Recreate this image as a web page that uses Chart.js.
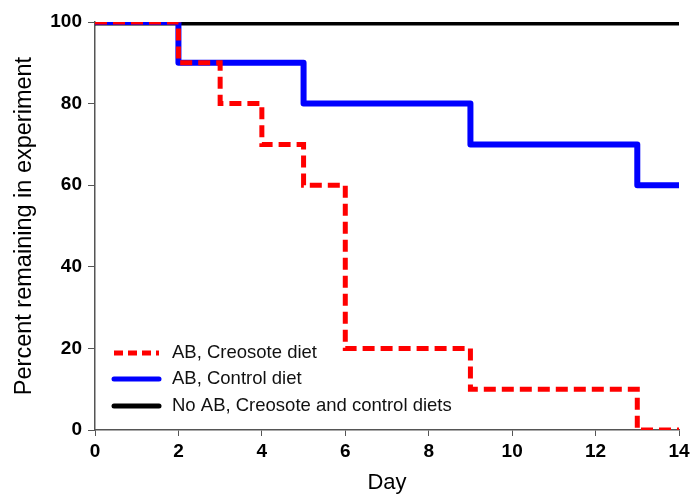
<html lang="en">
<head>
<meta charset="UTF-8">
<title>Survival</title>
<script src="https://cdn.jsdelivr.net/npm/chart.js@4.4.0/dist/chart.umd.min.js"></script>
<style>
  body { margin: 0; background: #fff; }
  #wrap { width: 691px; height: 494px; }
</style>
</head>
<body>
<div id="wrap"><canvas id="chart" width="691" height="494"></canvas></div>
<script>
// days where the value changes, and the value from that day on
const creosoteDays = [0, 2, 3, 4, 5, 6, 9, 13, 14];
const creosoteVals = [100, 90, 80, 70, 60, 20, 10, 0, 0];
const controlDays = [0, 2, 5, 9, 13, 14];
const controlVals = [100, 90, 80, 70, 60, 60];
const noAbDays = [0, 14];
const noAbVals = [100, 100];
const labels = ['AB, Creosote diet', 'AB, Control diet', 'No AB, Creosote and control diets'];

const FONT = '"Liberation Sans", Arial, sans-serif';

function pts(xs, ys) {
    return xs.map((x, i) => ({ x: x, y: ys[i] }));
}

const legendInside = {
    id: 'legendInside',
    afterDraw(chart) {
        const ctx = chart.ctx;
        const rows = [353, 379, 406];
        ctx.save();
        chart.data.datasets.forEach((ds, i) => {
            const y = rows[i];
            ctx.beginPath();
            ctx.strokeStyle = ds.borderColor;
            ctx.lineWidth = 5;
            ctx.lineCap = ds.borderDash ? 'butt' : 'round';
            ctx.setLineDash(ds.borderDash ? [9, 5] : []);
            ctx.moveTo(114, y);
            ctx.lineTo(159, y);
            ctx.stroke();
            ctx.setLineDash([]);
            ctx.fillStyle = '#111';
            ctx.font = '18.5px ' + FONT;
            ctx.textBaseline = 'middle';
            ctx.fillText(labels[i], 172, y);
        });
        ctx.restore();
    }
};

const ctx = document.getElementById('chart').getContext('2d');
new Chart(ctx, {
    type: 'line',
    data: {
        datasets: [{
            label: labels[0],
            data: pts(creosoteDays, creosoteVals),
            borderColor: '#ff0000',
            borderWidth: 5,
            borderDash: [12, 6],
            stepped: true,
            pointRadius: 0,
            order: 0
        }, {
            label: labels[1],
            data: pts(controlDays, controlVals),
            borderColor: '#0000ff',
            borderWidth: 6,
            borderCapStyle: 'round',
            borderJoinStyle: 'round',
            stepped: true,
            pointRadius: 0,
            order: 1
        }, {
            label: labels[2],
            data: pts(noAbDays, noAbVals),
            borderColor: '#000000',
            borderWidth: 7,
            borderCapStyle: 'round',
            stepped: true,
            pointRadius: 0,
            order: 2
        }]
    },
    options: {
        responsive: false,
        animation: false,
        layout: { padding: { top: 22, right: 12, left: 0, bottom: 0 } },
        plugins: { legend: { display: false }, tooltip: { enabled: false } },
        scales: {
            x: {
                type: 'linear',
                min: 0, max: 14,
                afterFit(s) { s.height = 64; s.paddingRight = 0; },
                ticks: { stepSize: 2, color: '#000', padding: 4,
                    font: { size: 19, weight: 'bold', family: FONT } },
                grid: { drawOnChartArea: false, drawTicks: true, tickLength: 6, color: '#555' },
                border: { color: '#555', width: 1.5 },
                title: { display: true, text: 'Day', color: '#000', padding: { top: -2, bottom: 0 },
                    font: { size: 22, family: FONT, lineHeight: 1 } }
            },
            y: {
                min: 0, max: 100,
                afterFit(s) { s.width = 95; },
                ticks: { stepSize: 20, color: '#000', padding: 6,
                    font: { size: 19, weight: 'bold', family: FONT } },
                grid: { drawOnChartArea: false, drawTicks: true, tickLength: 7, color: '#555' },
                border: { color: '#555', width: 1.5 },
                title: { display: true, text: 'Percent remaining in experiment', color: '#000',
                    padding: { top: 10, bottom: 0 },
                    font: { size: 23.5, family: FONT } }
            }
        }
    },
    plugins: [legendInside]
});
</script>
</body>
</html>
